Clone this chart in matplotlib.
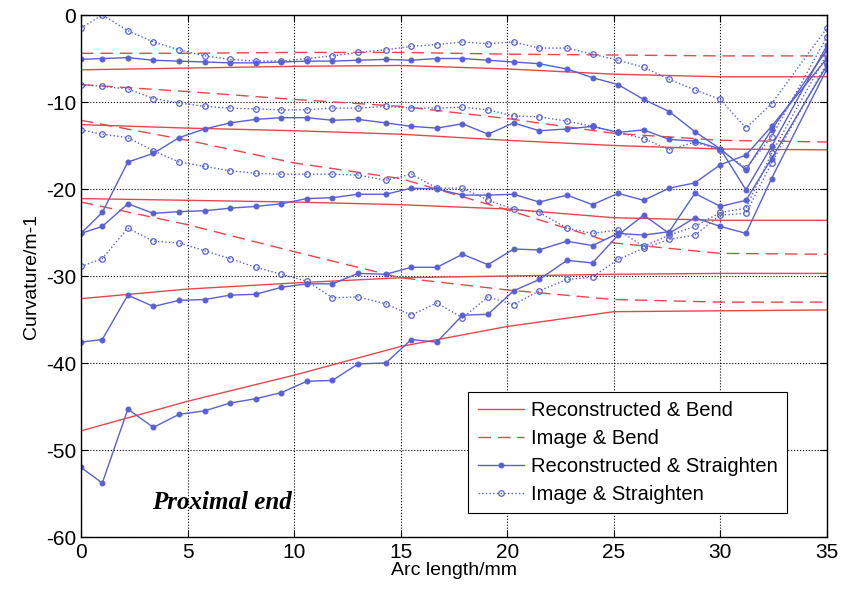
import matplotlib
matplotlib.use('Agg')
import matplotlib.pyplot as plt

plt.rcParams['font.family'] = ['Liberation Sans', 'DejaVu Sans']
plt.rcParams['axes.unicode_minus'] = False

# arc length positions of the straighten samples
xs = [0, 1.0, 2.2, 3.4, 4.6, 5.8, 7.0, 8.2, 9.4, 10.6, 11.8, 13.0, 14.3, 15.5, 16.7,
      17.9, 19.1, 20.3, 21.5, 22.8, 24.0, 25.2, 26.4, 27.6, 28.8, 30.0, 31.2, 32.4, 35.0]

# Reconstructed & Straighten
rs1 = [-5.1, -5.0, -4.9, -5.2, -5.3, -5.4, -5.5, -5.5, -5.4, -5.3, -5.3, -5.2, -5.1, -5.2, -5.0,
       -5.0, -5.2, -5.4, -5.6, -6.2, -7.2, -8.0, -9.7, -11.1, -13.4, -15.4, -20.1, -15.1, -3.5]
rs2 = [-25.1, -22.7, -16.9, -15.9, -14.1, -13.1, -12.4, -12.0, -11.8, -11.8, -12.1, -12.0, -12.4, -12.8, -13.0,
       -12.5, -13.7, -12.4, -13.3, -13.1, -12.8, -13.5, -13.2, -14.3, -14.5, -15.4, -17.8, -13.2, -4.0]
rs3 = [-25.1, -24.3, -21.7, -22.8, -22.6, -22.5, -22.2, -22.0, -21.7, -21.1, -21.0, -20.6, -20.6, -19.9, -20.0,
       -20.7, -20.7, -20.6, -21.5, -20.7, -21.8, -20.5, -21.3, -19.9, -19.3, -17.2, -16.1, -12.8, -5.0]
rs4 = [-37.6, -37.3, -32.2, -33.5, -32.8, -32.7, -32.2, -32.1, -31.3, -30.9, -30.9, -29.7, -29.8, -29.0, -29.0,
       -27.5, -28.7, -26.9, -27.0, -26.0, -26.5, -25.1, -25.3, -24.9, -20.5, -22.0, -21.3, -16.5, -5.8]
rs5 = [-52.0, -53.8, -45.3, -47.4, -45.9, -45.5, -44.6, -44.1, -43.4, -42.1, -42.0, -40.1, -40.0, -37.3, -37.6,
       -34.5, -34.4, -31.7, -30.4, -28.2, -28.5, -25.3, -23.0, -25.1, -23.3, -24.3, -25.1, -18.8, -6.2]

# Image & Straighten
is1 = [-1.5, 0.0, -1.8, -3.1, -4.0, -4.7, -5.1, -5.3, -5.3, -5.0, -4.7, -4.3, -4.0, -3.6, -3.4,
       -3.1, -3.3, -3.1, -3.8, -3.8, -4.5, -5.2, -6.0, -7.4, -8.6, -9.7, -13.0, -10.2, -1.5]
is2 = [-8.0, -8.2, -8.5, -9.6, -10.1, -10.5, -10.7, -10.8, -10.9, -10.9, -10.7, -10.7, -10.5, -10.7, -10.7,
       -10.6, -10.9, -11.6, -11.7, -12.2, -12.8, -13.5, -14.2, -15.5, -14.6, -15.5, -17.6, -14.0, -2.5]
is3 = [-13.2, -13.7, -14.1, -15.6, -16.9, -17.4, -17.9, -18.2, -18.3, -18.3, -18.3, -18.4, -19.0, -18.3, -19.9,
       -19.9, -21.3, -22.3, -22.7, -24.5, -25.1, -24.7, -26.6, -25.3, -24.3, -22.7, -22.2, -15.9, -4.5]
is4 = [-28.9, -28.0, -24.5, -26.0, -26.2, -27.1, -28.0, -29.0, -29.8, -30.6, -32.5, -32.4, -33.2, -34.5, -33.1,
       -34.8, -32.4, -33.3, -31.7, -30.4, -30.1, -28.1, -26.8, -25.8, -25.3, -23.0, -22.8, -17.0, -5.5]

# bend curves
xb = [0, 5, 10, 15, 20, 25, 30, 35]
rb1 = [-6.3, -6.1, -5.9, -5.8, -6.2, -6.8, -7.1, -7.1]
rb2 = [-12.6, -13.0, -13.3, -13.7, -14.4, -15.0, -15.4, -15.5]
rb3 = [-21.1, -21.3, -21.5, -21.8, -22.3, -23.3, -23.6, -23.6]
rb4 = [-32.6, -31.5, -30.8, -30.2, -30.0, -29.8, -29.7, -29.7]
rb5 = [-47.8, -44.4, -41.4, -38.1, -35.8, -34.1, -34.0, -33.9]
ib1 = [-4.4, -4.4, -4.3, -4.3, -4.5, -4.6, -4.7, -4.7]
ib2 = [-8.0, -8.8, -9.7, -10.5, -11.9, -13.6, -14.4, -14.6]
ib3 = [-12.1, -14.4, -17.0, -18.8, -22.4, -26.2, -27.4, -27.5]
ib4 = [-21.5, -24.1, -27.2, -30.2, -31.6, -32.7, -33.0, -33.0]

red = '#e8474a'
blue = '#5860d4'

fig = plt.figure(figsize=(8.46, 5.93), dpi=100)
ax = fig.add_axes([0.0957, 0.0944, 0.8818, 0.8803])

for i, y in enumerate([rb1, rb2, rb3, rb4, rb5]):
    ax.plot(xb, y, color=red, lw=1.0, label='Reconstructed & Bend' if i == 0 else None)
for i, y in enumerate([ib1, ib2, ib3, ib4]):
    ax.plot(xb, y, color=red, lw=1.0, dashes=(9, 5), label='Image & Bend' if i == 0 else None)
for i, y in enumerate([rs1, rs2, rs3, rs4, rs5]):
    ax.plot(xs, y, color=blue, lw=1.0, marker='o', ms=3.5, mfc=blue, mec=blue, mew=0.8,
            label='Reconstructed & Straighten' if i == 0 else None)
for i, y in enumerate([is1, is2, is3, is4]):
    ax.plot(xs, y, color=blue, lw=1.0, ls=':', marker='o', ms=4, mfc='none', mec=blue, mew=0.9,
            label='Image & Straighten' if i == 0 else None)

ax.set_xlim(0, 35)
ax.set_ylim(-60, 0)
ax.set_xticks(range(0, 36, 5))
ax.set_yticks(range(-60, 1, 10))
ax.grid(True, color='black', ls=':', lw=0.8)
ax.tick_params(direction='in', top=True, right=True, labelsize=15, length=5)
ax.tick_params(axis='x', pad=4)
for s in ax.spines.values():
    s.set_linewidth(1.0)
ax.set_xlabel('Arc length/mm', fontsize=14, labelpad=0)
ax.set_ylabel('Curvature/m-1', fontsize=14, labelpad=4)

ax.text(6.6, -56.0, 'Proximal end', family=['Liberation Serif', 'DejaVu Serif'],
        fontsize=18, fontweight='bold', fontstyle='italic', ha='center', va='center')

leg = ax.legend(loc='lower right', bbox_to_anchor=(0.946, 0.046), fontsize=14.5,
                fancybox=False, framealpha=1, edgecolor='black', handlelength=2.3,
                handletextpad=0.35, borderpad=0.45, labelspacing=0.45, borderaxespad=0)
leg.get_frame().set_linewidth(0.8)

fig.savefig('out.png', dpi=100)
